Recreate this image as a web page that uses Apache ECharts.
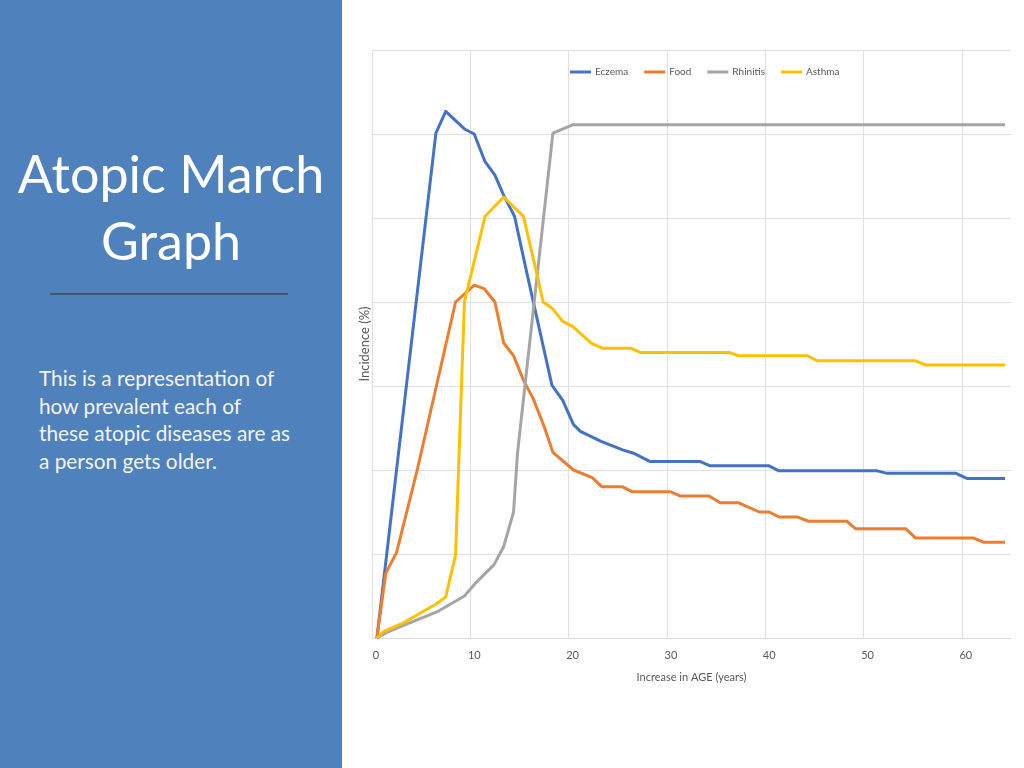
<!DOCTYPE html>
<html>
<head>
<meta charset="utf-8">
<title>Atopic March Graph</title>
<script src="https://cdn.jsdelivr.net/npm/echarts@6/dist/echarts.min.js"></script>
<style>
  html, body {
    margin: 0;
    padding: 0;
    width: 1024px;
    height: 768px;
    background: #ffffff;
    overflow: hidden;
  }
  .panel {
    position: absolute;
    left: 0;
    top: 0;
    width: 342px;
    height: 768px;
    background: #4f81bd;
    font-family: Lato, "Open Sans", sans-serif;
    color: #ffffff;
  }
  .panel h1 {
    position: absolute;
    left: 0;
    top: 140px;
    width: 342px;
    margin: 0;
    text-align: center;
    font-weight: 400;
    font-size: 52px;
    line-height: 67px;
  }
  .panel .rule {
    position: absolute;
    left: 50px;
    top: 293px;
    width: 238px;
    height: 2px;
    background: #42566e;
  }
  .panel p {
    position: absolute;
    left: 39px;
    top: 364px;
    width: 300px;
    margin: 0;
    font-size: 20.8px;
    line-height: 27.5px;
    color: #f4f4f4;
  }
  #chart {
    position: absolute;
    left: 342px;
    top: 0;
    width: 682px;
    height: 768px;
  }
</style>
</head>
<body>
  <div class="panel">
    <h1>Atopic March<br>Graph</h1>
    <div class="rule"></div>
    <p>This is a representation of<br>how prevalent each of<br>these atopic diseases are as<br>a person gets older.</p>
  </div>
  <div id="chart"></div>

<script>
// values: age (years) and incidence (%)
var eczemaAge = [0.5, 6.5, 7.5, 9.4, 10.4, 11.5, 12.5, 13.4, 14.5, 15.8, 18.3, 19.4, 20.5, 21.2, 23.3, 25.5, 26.6, 28.3, 33.4, 34.4, 40.4, 41.4, 51.4, 52.4, 59.4, 60.5, 64.4];
var eczemaVal = [0, 60.1, 62.7, 60.6, 60.0, 56.7, 55.1, 52.7, 50.2, 43.2, 30.1, 28.3, 25.4, 24.6, 23.4, 22.4, 22.0, 21.0, 21.0, 20.5, 20.5, 19.9, 19.9, 19.6, 19.6, 19.0, 19.0];

var foodAge = [0.5, 1.4, 2.5, 4.6, 8.5, 10.4, 11.4, 12.5, 13.4, 14.4, 15.4, 16.4, 17.5, 18.4, 20.5, 22.4, 23.4, 25.5, 26.5, 30.4, 31.4, 34.3, 35.4, 37.3, 39.4, 40.4, 41.4, 43.3, 44.4, 48.3, 49.2, 54.3, 55.3, 61.2, 62.2, 64.4];
var foodVal = [0, 7.7, 10.2, 20.0, 40.0, 42.0, 41.6, 40.0, 35.1, 33.6, 30.7, 28.5, 25.2, 22.1, 20.0, 19.1, 18.0, 18.0, 17.4, 17.4, 16.9, 16.9, 16.1, 16.1, 15.0, 15.0, 14.4, 14.4, 13.9, 13.9, 13.0, 13.0, 11.9, 11.9, 11.4, 11.4];

var rhinitisAge = [0.5, 1.4, 3.2, 4.9, 6.6, 9.4, 10.5, 12.4, 13.4, 14.4, 14.8, 18.4, 20.4, 64.4];
var rhinitisVal = [0, 0.6, 1.5, 2.3, 3.1, 5.0, 6.5, 8.7, 10.9, 15.0, 22.0, 60.1, 61.1, 61.1];

var asthmaAge = [0.5, 1.2, 3.2, 6.6, 7.5, 8.5, 9.4, 11.5, 13.4, 15.4, 16.8, 17.4, 18.3, 19.4, 20.4, 22.3, 23.4, 26.3, 27.3, 36.3, 37.3, 44.3, 45.3, 55.3, 56.3, 64.4];
var asthmaVal = [0, 0.8, 1.8, 4.1, 4.9, 9.9, 40.0, 50.2, 52.5, 50.2, 43.2, 40.0, 39.3, 37.7, 37.1, 35.1, 34.5, 34.5, 34.0, 34.0, 33.6, 33.6, 33.0, 33.0, 32.5, 32.5];

var seriesNames = ['Eczema', 'Food', 'Rhinitis', 'Asthma'];
var seriesColors = ['#4472c4', '#ed7d31', '#a5a5a5', '#ffc000'];

function pairs(xs, ys) {
  var out = [];
  for (var i = 0; i < xs.length; i++) {
    out.push([xs[i], ys[i]]);
  }
  return out;
}

var allData = [
  pairs(eczemaAge, eczemaVal),
  pairs(foodAge, foodVal),
  pairs(rhinitisAge, rhinitisVal),
  pairs(asthmaAge, asthmaVal)
];

var chartDom = document.getElementById('chart');
var myChart = echarts.init(chartDom);
var option;

var textFont = 'Lato, "Open Sans", sans-serif';

option = {
  animation: false,
  textStyle: { fontFamily: textFont },
  legend: {
    data: seriesNames,
    left: 223,
    top: 62,
    icon: 'rect',
    itemWidth: 21,
    itemHeight: 3,
    itemGap: 16,
    textStyle: {
      color: '#595959',
      fontSize: 10,
      padding: [0, 0, 0, -1]
    }
  },
  grid: {
    left: 30,
    top: 50,
    width: 639,
    height: 588
  },
  xAxis: {
    type: 'value',
    min: 0,
    max: 65,
    interval: 10,
    name: 'Increase in AGE (years)',
    nameLocation: 'middle',
    nameGap: 34,
    nameTextStyle: { color: '#595959', fontSize: 11 },
    axisLine: { show: true, lineStyle: { color: '#d9d9d9', width: 1 } },
    axisTick: { show: false },
    axisLabel: {
      color: '#595959',
      fontSize: 11,
      margin: 12,
      padding: [0, 0, 0, 8],
      showMaxLabel: false
    },
    splitLine: {
      show: true,
      showMaxLine: false,
      lineStyle: { color: '#e0e0e0', width: 1 }
    }
  },
  yAxis: {
    type: 'value',
    min: 0,
    max: 70,
    interval: 10,
    name: 'Incidence (%)',
    nameLocation: 'middle',
    nameGap: 1,
    nameRotate: 90,
    nameTextStyle: { color: '#595959', fontSize: 13 },
    axisLine: { show: false },
    axisTick: { show: false },
    axisLabel: { show: false },
    splitLine: {
      show: true,
      lineStyle: { color: '#e0e0e0', width: 1 }
    }
  },
  series: seriesNames.map(function (name, i) {
    return {
      name: name,
      type: 'line',
      data: allData[i],
      symbol: 'none',
      color: seriesColors[i],
      lineStyle: { width: 3, color: seriesColors[i], join: 'round' }
    };
  })
};

option && myChart.setOption(option);
</script>
</body>
</html>
